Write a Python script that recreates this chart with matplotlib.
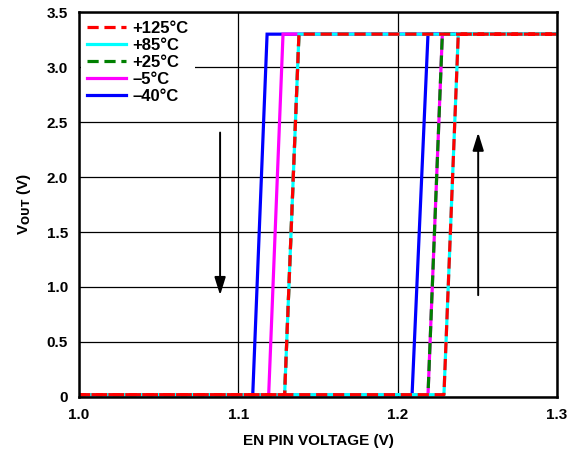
import matplotlib
matplotlib.use('Agg')
import matplotlib.pyplot as plt

plt.rcParams['font.family'] = ['Liberation Sans', 'DejaVu Sans']
plt.rcParams['font.weight'] = 'bold'

# temperature curves: label, color, style, falling edge (lo, hi), rising edge (lo, hi)
labels = ['+125°C', '+85°C', '+25°C', '–5°C', '–40°C']
colors = ['red', 'cyan', 'green', 'magenta', 'blue']
styles = ['--', '-', '--', '-', '-']
fall_lo = [1.129, 1.129, 1.129, 1.119, 1.109]
fall_hi = [1.138, 1.138, 1.138, 1.128, 1.118]
rise_lo = [1.229, 1.229, 1.219, 1.219, 1.209]
rise_hi = [1.238, 1.238, 1.228, 1.228, 1.219]
v_low = 0.02
v_high = 3.3

fig = plt.figure(figsize=(5.69, 4.51), dpi=100)
ax = fig.add_axes([0.139, 0.12, 0.840, 0.853])

handles = {}
# draw in reverse so +125 ends up on top
for i in reversed(range(len(labels))):
    xs = [1.0, rise_lo[i], rise_hi[i], 1.3, 1.3, fall_hi[i], fall_lo[i], 1.0]
    ys = [v_low, v_low, v_high, v_high, v_high, v_high, v_low, v_low]
    ln, = ax.plot(xs, ys, color=colors[i], ls=styles[i], lw=2.3,
                  dashes=(3.5, 1.8) if styles[i] == '--' else (None, None),
                  solid_joinstyle='miter')
    handles[i] = ln

ax.set_xlim(1.0, 1.3)
ax.set_ylim(0, 3.5)
ax.set_xticks([1.0, 1.1, 1.2, 1.3])
ax.set_xticklabels(['1.0', '1.1', '1.2', '1.3'])
ax.set_yticks([0, 0.5, 1.0, 1.5, 2.0, 2.5, 3.0, 3.5])
ax.set_yticklabels(['0', '0.5', '1.0', '1.5', '2.0', '2.5', '3.0', '3.5'])
ax.tick_params(length=0, labelsize=11, pad=8)
ax.grid(True, color='black', lw=0.9)
ax.set_axisbelow(True)
for s in ax.spines.values():
    s.set_linewidth(1.8)

ax.set_xlabel('EN PIN VOLTAGE (V)', fontsize=11, fontweight='bold', labelpad=9)
ax.set_ylabel('V$_{\\mathbf{OUT}}$ (V)', fontsize=11, fontweight='bold', labelpad=10)

# hysteresis direction arrows
arrow = dict(arrowstyle='-|>,head_length=0.9,head_width=0.28', color='black',
             lw=1.4, mutation_scale=12)
ax.annotate('', xy=(1.0885, 0.9), xytext=(1.0885, 2.43), arrowprops=arrow)
ax.annotate('', xy=(1.2505, 2.43), xytext=(1.2505, 0.9), arrowprops=arrow)

leg = ax.legend([handles[i] for i in range(len(labels))], labels, loc='upper left',
                frameon=True, fancybox=False, framealpha=1, edgecolor='white',
                fontsize=12, handlelength=2.3, handletextpad=0.4,
                labelspacing=0.12, borderpad=0.4, borderaxespad=0.1)
leg.get_frame().set_linewidth(0)

fig.savefig('out.png', dpi=100)
